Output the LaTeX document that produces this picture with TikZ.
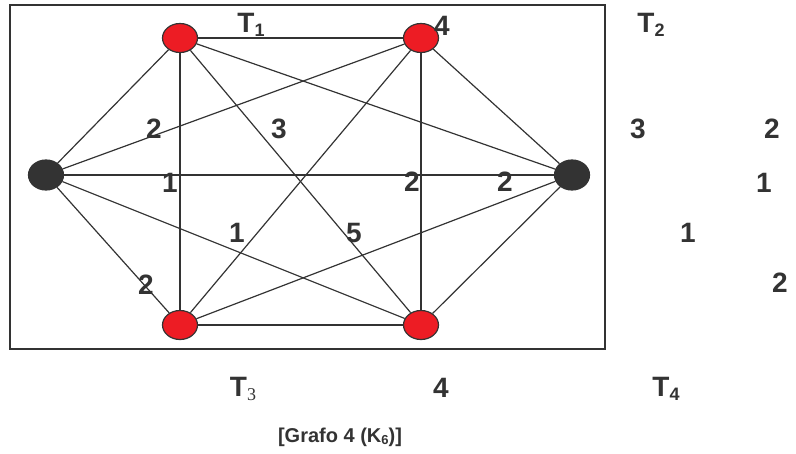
\documentclass[tikz,border=0pt]{standalone}
\usepackage{fontspec}
\setmainfont{Liberation Sans}
\newfontfamily\serifsub{Liberation Serif}
\usepackage{xcolor}
\usepackage{tikz}
\usetikzlibrary{shapes.geometric}

\definecolor{vred}{HTML}{ED1C24}
\definecolor{vdark}{HTML}{333333}
\newcommand{\subidx}[1]{\raisebox{-0.25ex}{\fontsize{18}{19}\selectfont #1}}

\begin{document}
\begin{tikzpicture}[
  x=1pt, y=-1pt,
  redv/.style={draw=vdark, line width=1.2pt, ellipse, fill=vred, minimum width=35pt, minimum height=29pt, inner sep=0pt},
  darkv/.style={draw=vdark, line width=1.2pt, ellipse, fill=vdark, minimum width=35pt, minimum height=30pt, inner sep=0pt},
  edge/.style={draw=vdark, line width=1.2pt},
  wgt/.style={font=\bfseries\fontsize{28}{30}\selectfont, text=vdark, inner sep=0pt},
  captxt/.style={font=\bfseries\fontsize{20}{22}\selectfont, text=vdark, inner sep=0pt}
]
\useasboundingbox (0,0) rectangle (796,453);

% frame
\node[draw=vdark, line width=1.2pt, minimum width=595pt, minimum height=344pt, inner sep=0pt] (frame) at (307.5,177) {};

% vertices
\node[redv] (tl) at (180,38) {};
\node[redv] (tr) at (421,38) {};
\node[darkv] (lft) at (46,175) {};
\node[darkv] (rgt) at (572,175) {};
\node[redv] (bl) at (180,325) {};
\node[redv] (br) at (421,325) {};

% edges
\draw[edge] (tl) -- (tr);
\draw[edge] (tl) -- (bl);
\draw[edge] (tl) -- (br);
\draw[edge] (tl) -- (lft);
\draw[edge] (tl) -- (rgt);
\draw[edge] (tr) -- (bl);
\draw[edge] (tr) -- (br);
\draw[edge] (tr) -- (lft);
\draw[edge] (tr) -- (rgt);
\draw[edge] (bl) -- (br);
\draw[edge] (bl) -- (lft);
\draw[edge] (bl) -- (rgt);
\draw[edge] (br) -- (lft);
\draw[edge] (br) -- (rgt);
\draw[edge] (lft) -- (rgt);

% labels
\node[wgt] (t1) at (251,25) {T\subidx{1}};
\node[wgt] (w4a) at (442,26) {4};
\node[wgt] (t2) at (651,25) {T\subidx{2}};
\node[wgt] (w2a) at (154,129) {2};
\node[wgt] (w3a) at (279,129) {3};
\node[wgt] (w3b) at (638,129) {3};
\node[wgt] (w2b) at (772,129) {2};
\node[wgt] (w1a) at (170,183) {1};
\node[wgt] (w2c) at (412,182) {2};
\node[wgt] (w2d) at (505,182) {2};
\node[wgt] (w1b) at (764,183) {1};
\node[wgt] (w1c) at (237,233) {1};
\node[wgt] (w5) at (354,233) {5};
\node[wgt] (w1d) at (688,233) {1};
\node[wgt] (w2e) at (146,285) {2};
\node[wgt] (w2f) at (780,283) {2};
\node[wgt] (t3) at (243,389) {T\subidx{\serifsub\mdseries 3}};
\node[wgt] (w4b) at (441,388) {4};
\node[wgt] (t4) at (666,389) {T\subidx{4}};
\node[captxt] (title) at (340,437) {[Grafo 4 (K\raisebox{-0.2ex}{\fontsize{13}{14}\selectfont 6})]};
\end{tikzpicture}
\end{document}
